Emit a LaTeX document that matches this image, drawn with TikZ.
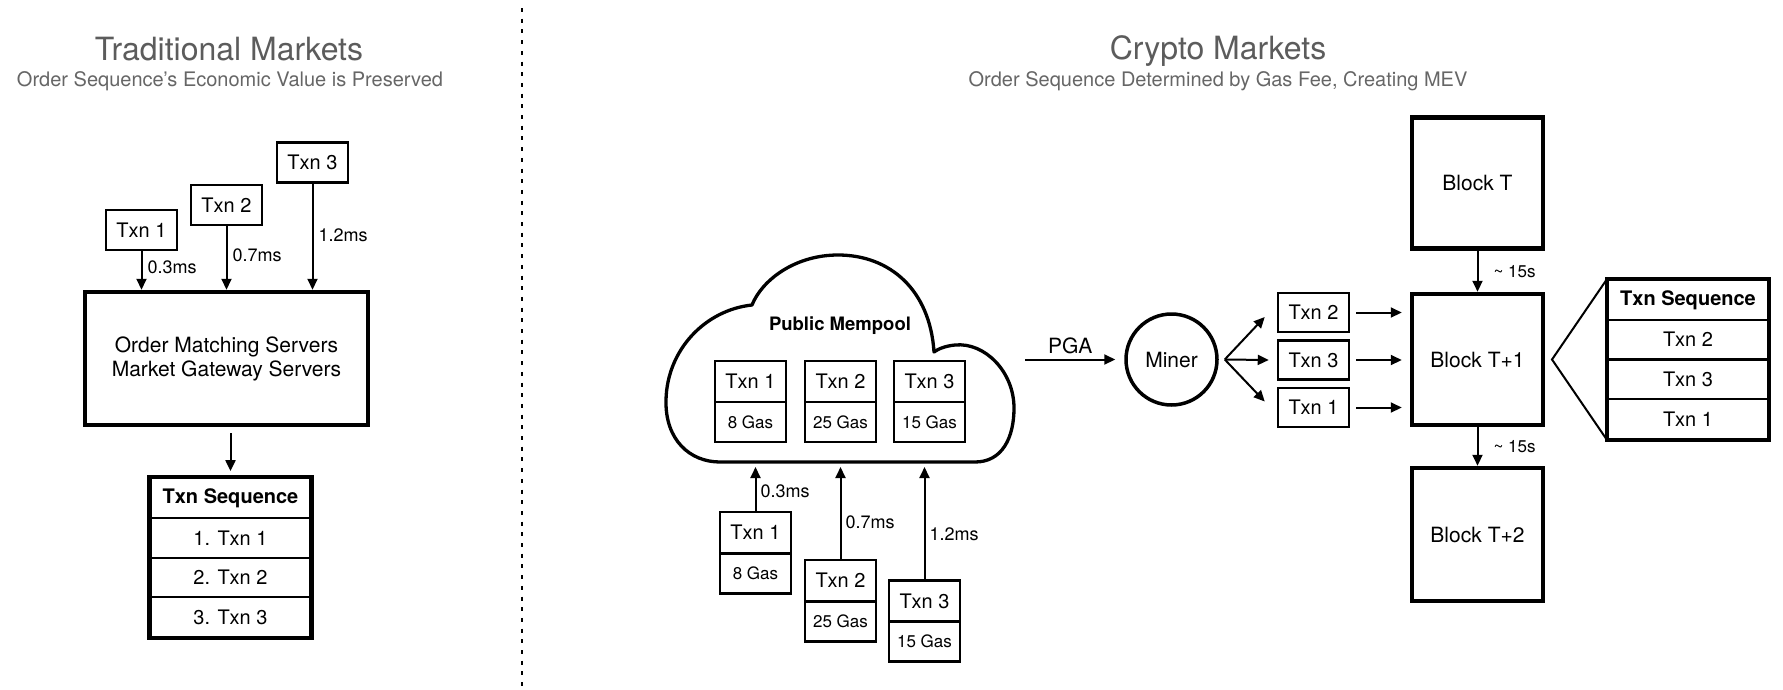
\documentclass[tikz,border=0pt]{standalone}
\usepackage{fontspec}
\setmainfont{TeX Gyre Heros}
\usetikzlibrary{arrows.meta,calc}
\definecolor{titlegray}{HTML}{5C5C5C}
\definecolor{subgray}{HTML}{666666}
\begin{document}
\begin{tikzpicture}[x=1pt,y=-1pt,
  fs/.style={font=\fontsize{#1}{#1}\selectfont},
  maintitle/.style={anchor=base, text=titlegray, fs=32, inner sep=0pt},
  subtitle/.style={anchor=base, text=subgray, fs=20, inner sep=0pt},
  txn/.style={draw, line width=2.5pt, minimum width=71pt, minimum height=40pt, inner sep=0pt, fs=20},
  gastop/.style={draw, line width=2.5pt, minimum width=71pt, minimum height=41pt, inner sep=0pt, fs=20},
  gasbot/.style={draw, line width=2.5pt, minimum width=71pt, minimum height=40pt, inner sep=0pt, fs=17},
  bigbox/.style={draw, line width=4.5pt, inner sep=0pt, fs=21},
  seqcell/.style={draw, line width=2pt, minimum width=160pt, minimum height=39.75pt, inner sep=0pt, fs=20},
  arr/.style={line width=2pt, -{Triangle[length=11pt,width=10pt]}},
  lbl/.style={fs=18, inner sep=1pt, anchor=west},
  divider/.style={line width=2.5pt, dash pattern=on 4pt off 6.7pt},
  cloudline/.style={line width=3.3pt, line join=round},
  tri/.style={line width=2pt, line join=miter}
]
\fill[white] (0,0) rectangle (1783,689);
\useasboundingbox (0,0) rectangle (1783,689);

% ---------------- Left: Traditional Markets ----------------
\node[maintitle] (ltitle) at (229,60) {Traditional Markets};
\node[subtitle] (lsub) at (230,86) {Order Sequence’s Economic Value is Preserved};

\node[txn] (lt1) at (141.5,230) {Txn 1};
\node[txn] (lt2) at (226.5,205) {Txn 2};
\node[txn] (lt3) at (312.5,162.5) {Txn 3};

\node[bigbox, minimum width=283pt, minimum height=133pt, align=center,
      font=\fontsize{21}{24}\selectfont] (oms) at (226.5,358.5)
      {Order Matching Servers\\Market Gateway Servers};

\draw[arr] (lt1.south) -- (lt1.south |- oms.north) node[lbl, pos=0.42, xshift=4pt] {0.3ms};
\draw[arr] (lt2.south) -- (lt2.south |- oms.north) node[lbl, pos=0.45, xshift=4pt] {0.7ms};
\draw[arr] (lt3.south) -- (lt3.south |- oms.north) node[lbl, pos=0.49, xshift=4pt] {1.2ms};

\node[seqcell] (l0) at (230.5,498) {\bfseries Txn Sequence};
\node[seqcell] (l1) at (230.5,537.75) {1. Txn 1};
\node[seqcell] (l2) at (230.5,577.5) {2. Txn 2};
\node[seqcell] (l3) at (230.5,617.25) {3. Txn 3};
\draw[line width=4.5pt] (l0.north west) rectangle (l3.south east);

\draw[arr] ($(l0.north |- oms.south)+(0,6)$) -- ($(l0.north)+(0,-6)$);

% divider
\coordinate (dtop) at (522,8);
\coordinate (dbot) at (522,689);
\draw[divider] (dtop) -- (dbot);

% ---------------- Right: Crypto Markets ----------------
\node[maintitle] (rtitle) at (1218,59) {Crypto Markets};
\node[subtitle] (rsub) at (1218,86) {Order Sequence Determined by Gas Fee, Creating MEV};

% cloud
\draw[cloudline] (720,462) -- (975,462)
  .. controls (1002,462) and (1014,438) .. (1014,408)
  .. controls (1014,372) and (985,342) .. (955,345)
  .. controls (945,346) and (938,349) .. (934,352)
  .. controls (930,290) and (890,255) .. (838,255)
  .. controls (795,255) and (762,280) .. (752,305)
  .. controls (705,310) and (667,350) .. (666,400)
  .. controls (665,440) and (690,462) .. (720,462) -- cycle;
\node[fs=18.5, font=\fontsize{18.5}{18.5}\selectfont\bfseries] (pm) at (840,326) {Public Mempool};
\coordinate (cbot) at (840,467);

\node[gastop] (c1t) at (750.5,381.5) {Txn 1};
\node[gasbot] (c1b) at (750.5,422) {8 Gas};
\node[gastop] (c2t) at (840.5,381.5) {Txn 2};
\node[gasbot] (c2b) at (840.5,422) {25 Gas};
\node[gastop] (c3t) at (929.5,381.5) {Txn 3};
\node[gasbot] (c3b) at (929.5,422) {15 Gas};

\node[gastop] (b1t) at (755.5,532.5) {Txn 1};
\node[gasbot] (b1b) at (755.5,573.5) {8 Gas};
\node[gastop] (b2t) at (840.5,580.5) {Txn 2};
\node[gasbot] (b2b) at (840.5,621.5) {25 Gas};
\node[gastop] (b3t) at (924.5,601) {Txn 3};
\node[gasbot] (b3b) at (924.5,641.5) {15 Gas};

\draw[arr] (b1t.north) -- (b1t.north |- cbot) node[lbl, pos=0.45, xshift=3pt] {0.3ms};
\draw[arr] (b2t.north) -- (b2t.north |- cbot) node[lbl, pos=0.4, xshift=3pt] {0.7ms};
\draw[arr] (b3t.north) -- (b3t.north |- cbot) node[lbl, pos=0.4, xshift=3pt] {1.2ms};

% PGA and miner
\coordinate (pgaS) at (1025,359.5);
\node[circle, draw, line width=3.5pt, minimum size=91pt, inner sep=0pt, fs=21] (miner) at (1171.5,359.5) {Miner};
\draw[arr] (pgaS) -- ($(miner.west)+(-9,0)$) node[midway, above=5pt, fs=21, inner sep=0pt] {PGA};

\node[txn, minimum height=39pt] (s2) at (1313.5,312.5) {Txn 2};
\node[txn, minimum height=39pt] (s3) at (1313.5,360) {Txn 3};
\node[txn, minimum height=39pt] (s1) at (1313.5,407.5) {Txn 1};

\draw[arr] ($(miner.east)+(6,0)$) -- ($(s2.west)+(-12,4.5)$);
\draw[arr] ($(miner.east)+(6,0)$) -- ($(s3.west)+(-8,0)$);
\draw[arr] ($(miner.east)+(6,0)$) -- ($(s1.west)+(-12,-6)$);

% blocks
\node[bigbox, minimum width=131pt, minimum height=131pt] (bt) at (1477.5,183) {Block T};
\node[bigbox, minimum width=131pt, minimum height=131pt] (bt1) at (1477.5,359.5) {Block T+1};
\node[bigbox, minimum width=131pt, minimum height=133pt] (bt2) at (1477.5,534.5) {Block T+2};

\draw[arr] ($(s2.east)+(6,0)$) -- ($(bt1.west |- s2.east)+(-8,0)$);
\draw[arr] ($(s3.east)+(6,0)$) -- ($(bt1.west |- s3.east)+(-8,0)$);
\draw[arr] ($(s1.east)+(6,0)$) -- ($(bt1.west |- s1.east)+(-8,0)$);

\draw[arr] (bt.south) -- (bt1.north) node[lbl, midway, xshift=14pt, fs=17] {\textasciitilde{} 15s};
\draw[arr] (bt1.south) -- (bt2.north) node[lbl, midway, xshift=14pt, fs=17] {\textasciitilde{} 15s};

% right sequence table
\node[seqcell] (r0) at (1688,299.9) {\bfseries Txn Sequence};
\node[seqcell] (r1) at (1688,339.6) {Txn 2};
\node[seqcell] (r2) at (1688,379.4) {Txn 3};
\node[seqcell] (r3) at (1688,419.1) {Txn 1};
\draw[line width=4.5pt] (r0.north west) rectangle (r3.south east);

\coordinate (apex) at (1552,359.5);
\draw[tri] (r0.north west) -- (apex) -- (r3.south west);
\end{tikzpicture}
\end{document}
